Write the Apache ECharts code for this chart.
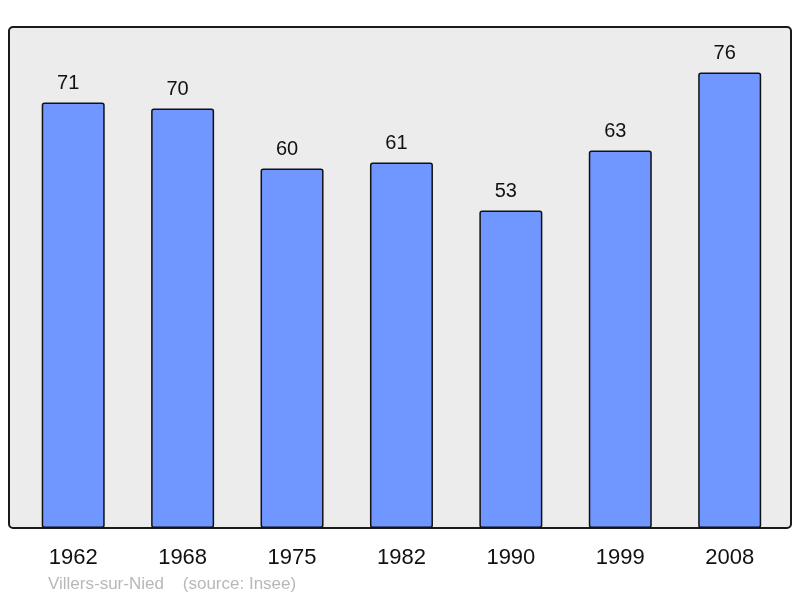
<!DOCTYPE html>
<html>
<head>
<meta charset="utf-8">
<script src="https://cdn.jsdelivr.net/npm/echarts@6/dist/echarts.min.js"></script>
<style>
html,body{margin:0;padding:0;background:#fff;}
#c{width:800px;height:598px;}
</style>
</head>
<body>
<div id="c"></div>
<script>
const categories = ['1962','1968','1975','1982','1990','1999','2008'];
const values = [71, 70, 60, 61, 53, 63, 76];
const footer = 'Villers-sur-Nied    (source: Insee)';

const chart = echarts.init(document.getElementById('c'), null, {renderer: 'canvas'});
const FONT = '"Liberation Sans", Arial, sans-serif';
chart.setOption({
  animation: false,
  backgroundColor: '#ffffff',
  graphic: [
    {
      type: 'rect', z: 0,
      shape: {x: 9, y: 27, width: 782, height: 501, r: 4},
      style: {fill: '#ececec', stroke: '#1a1a1a', lineWidth: 2}
    },
    {
      type: 'text', z: 5, left: 48, top: 576,
      style: {text: footer, fill: '#b8b8b8', font: '17px ' + FONT}
    }
  ],
  grid: {left: 18.5, right: 15.6, top: 27, bottom: 70, containLabel: false},
  xAxis: {
    type: 'category',
    data: categories,
    axisLine: {show: false},
    axisTick: {show: false},
    axisLabel: {color: '#111', fontSize: 22, fontFamily: FONT, margin: 19}
  },
  yAxis: {
    type: 'value', min: 0, max: 83.6,
    show: false,
    splitLine: {show: false}
  },
  series: [{
    type: 'bar',
    data: values,
    barWidth: 63,
    itemStyle: {color: '#7096ff', borderColor: '#111', borderWidth: 1.5, borderRadius: 2},
    label: {show: true, position: 'top', distance: 9, offset: [-5, 0], color: '#111', fontSize: 20, fontFamily: FONT}
  }]
});
</script>
</body>
</html>
